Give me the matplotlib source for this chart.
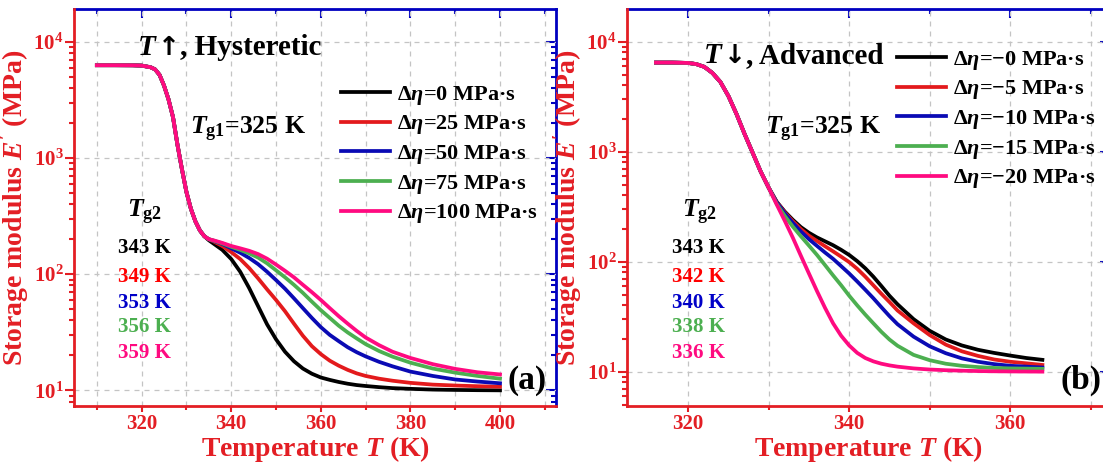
import matplotlib
matplotlib.use('Agg')
import matplotlib.pyplot as plt
from matplotlib.ticker import MultipleLocator

plt.rcParams['font.family'] = ['Liberation Serif', 'DejaVu Serif']
plt.rcParams['font.weight'] = 'bold'
plt.rcParams['axes.labelweight'] = 'bold'
plt.rcParams['mathtext.fontset'] = 'custom'
plt.rcParams['mathtext.rm'] = 'Liberation Serif:bold'
plt.rcParams['mathtext.it'] = 'Liberation Serif:italic:bold'
plt.rcParams['mathtext.bf'] = 'Liberation Serif:bold'

RED = '#e31e24'
BLUE = '#0000c0'
LINE_COLORS = ['#000000', '#e31a1c', '#0a0ab4', '#4caf50', '#ff0a80']
TEXT_COLORS = ['#000000', '#ff0000', '#0000c8', '#4caf50', '#ff0a80']

# ---- panel (a): heating, hysteretic ----
T_head_a = [310, 314, 318, 320, 322, 323, 324, 325, 326, 327, 328, 329, 330, 331, 332, 333, 334]
E_head_a = [6300, 6300, 6290, 6250, 6050, 5800, 5200, 4200, 3200, 2250, 1300, 800, 510, 365, 285, 238, 212]
T_tail_a = [335, 336, 338, 340, 342, 344, 346, 348, 350, 352, 354, 356, 358, 360,
            362, 364, 366, 368, 370, 373, 376, 380, 385, 390, 395, 400]
E_tail_a = [
    [196, 184, 162, 135, 105, 76, 53, 37, 27.5, 21.5, 17.8, 15.4, 13.9, 12.9,
     12.3, 11.8, 11.4, 11.1, 10.9, 10.65, 10.45, 10.3, 10.15, 10.08, 10.03, 10.0],
    [200, 192, 175, 155, 135, 113, 92, 74, 60, 48, 37.5, 29.5, 24, 20.5,
     18, 16.3, 15, 14, 13.3, 12.6, 12.1, 11.6, 11.2, 11.0, 10.85, 10.75],
    [200, 194, 182, 167, 153, 138, 122, 105, 89, 75, 62, 51, 42, 35,
     30, 26.5, 23.5, 21.3, 19.6, 17.6, 16.1, 14.5, 13.3, 12.4, 11.9, 11.5],
    [200, 195, 184, 172, 162, 151, 139, 124, 108, 94, 81, 69, 58, 49,
     42, 36, 31.5, 28, 25, 21.8, 19.5, 17.3, 15.4, 14.2, 13.3, 12.6],
    [200, 196, 186, 175, 167, 159, 149, 136, 121, 107, 94, 81, 70, 60,
     51, 43.5, 37.5, 32.5, 28.5, 24.5, 21.5, 19, 16.8, 15.3, 14.3, 13.7],
]
labels_a = ['0', '25', '50', '75', '100']
tg2_a = ['343 K', '349 K', '353 K', '356 K', '359 K']

# ---- panel (b): cooling, advanced ----
T_head_b = [316, 318, 320, 321, 322, 323, 324, 325, 326, 327, 328, 329, 330]
E_head_b = [6450, 6450, 6400, 6250, 5900, 5200, 4300, 3200, 2200, 1450, 980, 660, 470]
T_tail_b = [331, 332, 333, 334, 335, 336, 337, 338, 339, 340, 341, 342, 343, 344,
            345, 346, 348, 350, 352, 354, 356, 358, 360, 362, 364]
E_tail_b = [
    [350, 285, 240, 206, 183, 166, 153, 141, 128, 115, 101, 87, 73, 60,
     49, 41, 30, 23.5, 19.6, 17.3, 15.8, 14.8, 14.0, 13.3, 12.8],
    [348, 280, 233, 198, 172, 154, 138, 124, 111, 99, 86, 73, 61, 51,
     43, 36, 27.5, 21.5, 17.6, 15.3, 13.9, 12.9, 12.3, 11.9, 11.5],
    [345, 275, 225, 188, 160, 139, 121, 106, 91, 78, 66, 55.5, 46.5, 38.5,
     32, 27, 20.8, 17, 14.7, 13.2, 12.3, 11.7, 11.3, 11.1, 10.9],
    [335, 260, 208, 170, 140, 115, 93, 75, 61, 49, 40, 33, 27.5, 23,
     19.6, 17.2, 14.2, 12.7, 11.8, 11.3, 11.0, 10.8, 10.7, 10.65, 10.6],
    [330, 235, 165, 113, 78, 54, 38, 27.5, 21.2, 17.3, 14.8, 13.3, 12.4, 11.8,
     11.4, 11.1, 10.7, 10.45, 10.3, 10.2, 10.12, 10.07, 10.04, 10.02, 10.0],
]
labels_b = ['\u22120', '\u22125', '\u221210', '\u221215', '\u221220']
tg2_b = ['343 K', '342 K', '340 K', '338 K', '336 K']


def style_axes(ax, xlim, ylim):
    ax.set_yscale('log')
    ax.set_xlim(*xlim)
    ax.set_ylim(*ylim)
    ax.xaxis.set_major_locator(MultipleLocator(20))
    ax.xaxis.set_minor_locator(MultipleLocator(10))
    for s in ['top', 'right']:
        ax.spines[s].set_visible(False)
    for s in ['left', 'bottom']:
        ax.spines[s].set_color(RED)
        ax.spines[s].set_linewidth(2)
    ax.tick_params(which='both', direction='out', color=RED, labelcolor=RED,
                   width=1.5, labelsize=15, pad=1)
    ax.tick_params(axis='y', which='major', length=6.5)
    ax.tick_params(axis='y', which='minor', length=3.5)
    ax.tick_params(axis='x', which='major', length=4.5)
    ax.tick_params(axis='x', which='minor', length=3)
    ax.grid(True, which='major', axis='both', ls=(0, (4, 4)), color='#c4c4c4', lw=0.9)
    ax.grid(True, which='minor', axis='x', ls=(0, (4, 4)), color='#c4c4c4', lw=0.9)

    top = ax.secondary_xaxis('top')
    top.xaxis.set_major_locator(MultipleLocator(20))
    top.xaxis.set_minor_locator(MultipleLocator(10))
    top.tick_params(which='both', direction='in', color=BLUE, labeltop=False, width=1.5)
    top.tick_params(which='major', length=6.5)
    top.tick_params(which='minor', length=3.5)
    top.spines['top'].set_color(BLUE)
    top.spines['top'].set_linewidth(2)

    right = ax.secondary_yaxis('right')
    right.tick_params(which='both', direction='in', color=BLUE, labelright=False, width=1.5)
    right.tick_params(which='major', length=7)
    right.tick_params(which='minor', length=3.5)
    right.spines['right'].set_color(BLUE)
    right.spines['right'].set_linewidth(2)

    ax.set_xlabel('Temperature $T$ (K)', color=RED, fontsize=20, labelpad=0)
    ax.set_ylabel("Storage modulus $E'$ (MPa)", color=RED, fontsize=20, labelpad=2)


def draw_panel(ax, T_head, E_head, T_tail, E_tail, labels, tg2, title, tag, leg_xy):
    for i in range(5):
        ax.plot(T_head + T_tail, E_head + E_tail[i], color=LINE_COLORS[i], lw=2.7,
                label=r'$\Delta\eta$=' + labels[i] + ' MPa\u00b7s', zorder=3 + i * 0.1)
    ax.legend(loc='upper left', bbox_to_anchor=leg_xy, frameon=False, fontsize=16,
              handlelength=2.2, handletextpad=0.3, labelspacing=0.3,
              borderpad=0, borderaxespad=0)
    # title: italic T, a heavier arrow glyph, then the words
    t1 = ax.text(title[2], title[3], '$T$ ', transform=ax.transAxes, fontsize=21,
                 ha='left', va='baseline')
    t2 = ax.annotate(title[0], xy=(1, 0), xycoords=t1, fontsize=19,
                     family='DejaVu Sans', ha='left', va='bottom')
    ax.annotate(title[1], xy=(1, 0), xycoords=t2, fontsize=21,
                ha='left', va='bottom')
    ax.text(tag[1], 0.683, r'$T_{\rm g1}$=325 K', transform=ax.transAxes,
            fontsize=18.5, ha='left', va='baseline')
    ax.text(tag[2], 0.474, r'$T_{\rm g2}$', transform=ax.transAxes,
            fontsize=18.5, ha='left', va='baseline')
    ys = [0.398, 0.325, 0.259, 0.199, 0.134]
    for i in range(5):
        ax.text(tag[3], ys[i], tg2[i], transform=ax.transAxes, fontsize=15,
                color=TEXT_COLORS[i], ha='left', va='center')
    ax.text(0.939, 0.065, tag[0], transform=ax.transAxes, fontsize=24,
            ha='center', va='center')


fig = plt.figure(figsize=(11.03, 4.63), dpi=100)
ax1 = fig.add_axes([74 / 1103, 57 / 463, 482 / 1103, 397 / 463])
ax2 = fig.add_axes([627 / 1103, 57 / 463, 483 / 1103, 397 / 463])

style_axes(ax1, (304.9, 412.5), (7.33, 19200))
style_axes(ax2, (312.4, 372.4), (4.87, 19800))

draw_panel(ax1, T_head_a, E_head_a, T_tail_a, E_tail_a, labels_a, tg2_a,
           ('\u2191', ', Hysteretic', 0.131, 0.885), ('(a)', 0.241, 0.110, 0.091),
           (0.554, 0.812))
draw_panel(ax2, T_head_b, E_head_b, T_tail_b, E_tail_b, labels_b, tg2_b,
           ('\u2193', ', Advanced', 0.157, 0.865), ('(b)', 0.286, 0.114, 0.093),
           (0.559, 0.900))

fig.savefig('out.png', dpi=100)
